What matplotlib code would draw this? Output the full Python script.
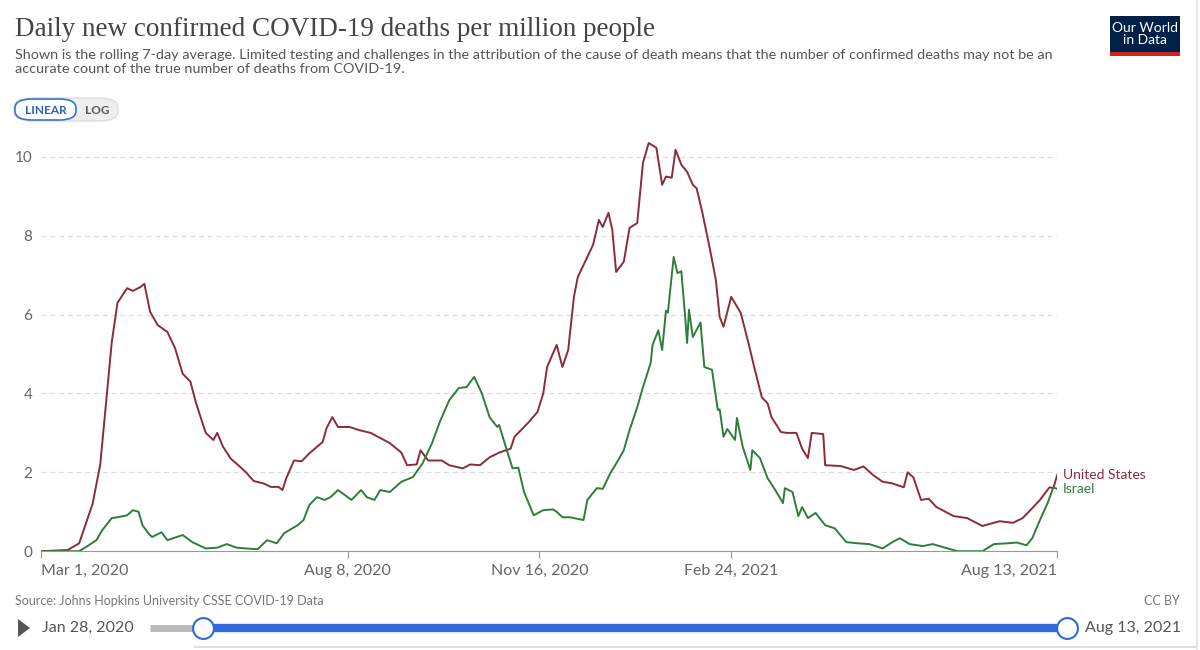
import matplotlib.pyplot as plt
from matplotlib.patches import FancyBboxPatch, Rectangle, Polygon
from matplotlib.lines import Line2D
import pandas as pd

plt.rcParams['font.family'] = ['Lato', 'DejaVu Sans']

start = pd.Timestamp('2020-03-01')

# days since Mar 1, 2020 and values (deaths per million, 7-day avg)
us_days = [0, 14, 20, 27, 31, 34, 37, 40, 45, 48, 52, 54, 57, 61, 66, 70, 74, 78, 81, 86,
           90, 92, 95, 99, 103, 107, 111, 116, 120, 124, 126, 128, 132, 136, 140, 147, 149,
           152, 155, 161, 166, 172, 177, 182, 188, 191, 196, 198, 202, 209, 213, 220, 224,
           229, 234, 239, 245, 247, 254, 259, 262, 264, 269, 272, 275, 278, 280, 285, 288,
           291, 293, 296, 298, 300, 304, 307, 311, 314, 317, 321, 324, 326, 329, 331, 334,
           337, 340, 342, 345, 349, 352, 354, 356, 360, 365, 369, 372, 376, 379, 381, 386,
           389, 394, 397, 400, 402, 408, 409, 417, 424, 429, 434, 439, 444, 450, 452, 455,
           459, 463, 467, 476, 483, 491, 500, 507, 512, 516, 521, 526, 528, 530]
us_vals = [0, 0.03, 0.2, 1.2, 2.2, 3.75, 5.3, 6.3, 6.67, 6.6, 6.7, 6.78, 6.07, 5.73, 5.56,
           5.15, 4.5, 4.3, 3.75, 3.0, 2.82, 3.0, 2.65, 2.35, 2.18, 2.0, 1.78, 1.72, 1.63,
           1.63, 1.55, 1.85, 2.3, 2.28, 2.48, 2.77, 3.12, 3.4, 3.15, 3.15, 3.07, 3.0, 2.87,
           2.74, 2.5, 2.18, 2.2, 2.56, 2.3, 2.3, 2.18, 2.1, 2.2, 2.18, 2.38, 2.5, 2.6, 2.9,
           3.25, 3.53, 4.0, 4.67, 5.23, 4.67, 5.1, 6.45, 6.95, 7.46, 7.77, 8.4, 8.22, 8.58,
           8.15, 7.08, 7.34, 8.2, 8.32, 9.85, 10.35, 10.23, 9.29, 9.5, 9.47, 10.18, 9.8,
           9.62, 9.29, 9.2, 8.58, 7.64, 6.88, 5.94, 5.69, 6.45, 6.04, 5.28, 4.67, 3.9, 3.75,
           3.4, 3.02, 3.0, 3.0, 2.6, 2.36, 3.0, 2.97, 2.18, 2.16, 2.06, 2.15, 1.93, 1.76,
           1.72, 1.62, 2.0, 1.87, 1.3, 1.33, 1.12, 0.89, 0.84, 0.64, 0.76, 0.72, 0.84, 1.04,
           1.3, 1.62, 1.6, 1.93]

il_days = [0, 20, 25, 29, 32, 37, 41, 45, 48, 51, 53, 56, 58, 63, 66, 74, 79, 86, 92, 97,
           102, 107, 113, 118, 123, 127, 134, 137, 140, 144, 148, 151, 155, 160, 162, 167,
           170, 174, 177, 182, 188, 194, 199, 204, 208, 213, 218, 222, 226, 230, 234, 238,
           239, 243, 246, 249, 252, 257, 262, 267, 269, 272, 276, 283, 285, 290, 293, 297,
           301, 304, 307, 311, 314, 318, 319, 322, 324, 326, 327, 330, 332, 334, 336, 337,
           338, 340, 344, 346, 350, 353, 354, 356, 358, 362, 363, 366, 370, 371, 375, 379,
           383, 387, 388, 392, 395, 397, 400, 404, 409, 414, 420, 426, 432, 439, 444, 448,
           453, 460, 465, 473, 478, 491, 497, 504, 509, 514, 517, 521, 525, 528, 530]
il_vals = [0, 0, 0.15, 0.28, 0.53, 0.84, 0.87, 0.91, 1.04, 1.0, 0.66, 0.46, 0.36, 0.48,
           0.28, 0.41, 0.23, 0.07, 0.09, 0.18, 0.09, 0.07, 0.05, 0.28, 0.2, 0.46, 0.66, 0.79,
           1.17, 1.37, 1.3, 1.37, 1.55, 1.37, 1.3, 1.55, 1.37, 1.3, 1.55, 1.5, 1.76, 1.88,
           2.22, 2.74, 3.27, 3.83, 4.14, 4.16, 4.42, 4.0, 3.4, 3.15, 3.2, 2.56, 2.1, 2.12,
           1.5, 0.91, 1.04, 1.06, 1.0, 0.86, 0.86, 0.79, 1.3, 1.6, 1.58, 1.98, 2.3, 2.56,
           3.07, 3.65, 4.16, 4.77, 5.23, 5.6, 5.1, 6.1, 6.05, 7.46, 7.05, 7.1, 5.94, 5.28,
           6.12, 5.43, 5.8, 4.67, 4.6, 3.58, 3.6, 2.9, 3.1, 2.82, 3.38, 2.65, 2.06, 2.56,
           2.36, 1.85, 1.55, 1.22, 1.6, 1.5, 0.89, 1.12, 0.84, 0.97, 0.66, 0.58, 0.23, 0.2,
           0.18, 0.07, 0.23, 0.33, 0.18, 0.13, 0.18, 0.07, 0.0, 0.0, 0.18, 0.2, 0.22, 0.15,
           0.33, 0.79, 1.22, 1.62, 1.58]

tick_dates = ['2020-03-01', '2020-08-08', '2020-11-16', '2021-02-24', '2021-08-13']
tick_labels = ['Mar 1, 2020', 'Aug 8, 2020', 'Nov 16, 2020', 'Feb 24, 2021', 'Aug 13, 2021']
yticks = [0, 2, 4, 6, 8, 10]

us_color = '#8b2c3a'
il_color = '#2f7d3b'
grey = '#666666'

us_x = start + pd.to_timedelta(us_days, unit='D')
il_x = start + pd.to_timedelta(il_days, unit='D')

fig = plt.figure(figsize=(12, 6.5), dpi=100)
ax = fig.add_axes([0.034, 0.152, 0.847, 0.631])

ax.plot(us_x, us_vals, color=us_color, lw=1.4)
ax.plot(il_x, il_vals, color=il_color, lw=1.4)

ax.set_xlim(pd.Timestamp(tick_dates[0]), pd.Timestamp(tick_dates[-1]))
ax.set_ylim(0, 10.4)
for s in ['top', 'right', 'left']:
    ax.spines[s].set_visible(False)
ax.spines['bottom'].set_color('#999999')
ax.set_yticks(yticks)
ax.set_yticklabels([str(v) for v in yticks], color=grey, fontsize=11)
ax.tick_params(axis='y', length=0, pad=6)
for v in yticks[1:]:
    ax.axhline(v, color='#dddddd', lw=0.9, ls=(0, (4, 3)), zorder=0)

ax.set_xticks([pd.Timestamp(d) for d in tick_dates])
ax.set_xticklabels(tick_labels, color=grey, fontsize=11.5)
ax.tick_params(axis='x', length=5, color='#999999', pad=4)
xl = ax.get_xticklabels()
xl[0].set_ha('left')
xl[-1].set_ha('right')

# line end labels
ax.text(us_x[-1] + pd.Timedelta(days=3), us_vals[-1], 'United States', color=us_color,
        fontsize=10, va='center', ha='left', clip_on=False)
ax.text(il_x[-1] + pd.Timedelta(days=3), il_vals[-1], 'Israel', color=il_color,
        fontsize=10, va='center', ha='left', clip_on=False)

# title block
fig.text(0.0125, 0.954, 'Daily new confirmed COVID-19 deaths per million people',
         family=['Liberation Serif', 'DejaVu Serif'], fontsize=19.5, color='#444444',
         va='center', ha='left')
fig.text(0.0125, 0.905, 'Shown is the rolling 7-day average. Limited testing and challenges in the '
         'attribution of the cause of death means that the number of confirmed deaths may not be an\n'
         'accurate count of the true number of deaths from COVID-19.',
         fontsize=10.4, color='#555555', va='center', ha='left', linespacing=1.2)

# LINEAR / LOG toggle
fig.patches.append(FancyBboxPatch((14 / 1200, 1 - 121 / 650), 104 / 1200, 23 / 650,
                                  boxstyle='round,pad=0,rounding_size=0.015',
                                  transform=fig.transFigure, fc='#eeeeee', ec='#dddddd', lw=1))
fig.patches.append(FancyBboxPatch((15 / 1200, 1 - 120 / 650), 61 / 1200, 21 / 650,
                                  boxstyle='round,pad=0,rounding_size=0.014',
                                  transform=fig.transFigure, fc='white', ec='#3b73d4', lw=1.2))
fig.text(46 / 1200, 1 - 110 / 650, 'LINEAR', fontsize=8.5, color='#2d5fb8', ha='center',
         va='center', weight='bold')
fig.text(97 / 1200, 1 - 110 / 650, 'LOG', fontsize=8.5, color='#555555', ha='center',
         va='center', weight='bold')

# logo
fig.patches.append(Rectangle((1110 / 1200, 1 - 56 / 650), 70 / 1200, 40 / 650,
                             transform=fig.transFigure, fc='#002147', ec='none'))
fig.patches.append(Rectangle((1110 / 1200, 1 - 56 / 650), 70 / 1200, 4 / 650,
                             transform=fig.transFigure, fc='#ce261e', ec='none'))
fig.text(1145 / 1200, 1 - 34 / 650, 'Our World\nin Data', color='white', fontsize=10,
         ha='center', va='center', linespacing=0.9)
fig.add_artist(Line2D([1197 / 1200, 1197 / 1200], [0, 1], color='#e6e6e6', lw=1.5))

# footer
fig.text(15 / 1200, 1 - 601 / 650, 'Source: Johns Hopkins University CSSE COVID-19 Data',
         fontsize=9, color='#777777', va='center')
fig.text(1180 / 1200, 1 - 601 / 650, 'CC BY', fontsize=9, color='#777777', va='center',
         ha='right')

# timeline slider
ty = 1 - 628 / 650
fig.patches.append(Polygon([(18 / 1200, ty + 9 / 650), (18 / 1200, ty - 9 / 650),
                            (30 / 1200, ty)], closed=True, transform=fig.transFigure,
                           fc='#555555', ec='none'))
fig.text(42 / 1200, ty, 'Jan 28, 2020', fontsize=11.5, color='#555555', va='center')
fig.add_artist(Line2D([150 / 1200, 203 / 1200], [ty, ty], color='#bbbbbb', lw=5,
                      solid_capstyle='butt'))
fig.add_artist(Line2D([203 / 1200, 1067 / 1200], [ty, ty], color='#2f6ad8', lw=6,
                      solid_capstyle='butt'))
for cx in [203, 1067]:
    fig.add_artist(Line2D([cx / 1200], [ty], marker='o', ms=15, mfc='white', mec='#2f6ad8',
                          mew=1.5))
fig.text(1085 / 1200, ty, 'Aug 13, 2021', fontsize=11.5, color='#555555', va='center')
fig.add_artist(Line2D([195 / 1200, 1195 / 1200], [3 / 650, 3 / 650], color='#e0e0e0', lw=1.5))

fig.savefig('out.png', dpi=100)
